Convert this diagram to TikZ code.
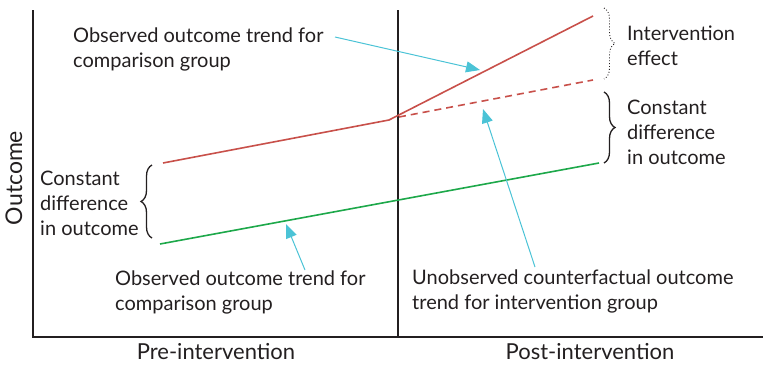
\documentclass[tikz,border=0pt]{standalone}
\usepackage{fontspec}
\setmainfont{Lato}
\usetikzlibrary{arrows.meta,decorations.pathreplacing}
\definecolor{redl}{HTML}{C8504A}
\definecolor{greenl}{HTML}{1DA84A}
\definecolor{cyanl}{HTML}{4BC3D6}
\definecolor{axisc}{HTML}{231F20}
\tikzset{
  lbl/.style={font=\fontsize{20}{25}\selectfont, text=axisc, align=left, inner sep=0pt},
  axislbl/.style={font=\fontsize{22}{25}\selectfont, text=axisc, inner sep=0pt},
  axisline/.style={draw=axisc, line width=2pt},
  pointer/.style={draw=cyanl, line width=1pt, -{Triangle[length=14pt,width=11pt]}},
  bracestyle/.style={draw=axisc, line width=1.3pt, decorate, decoration={brace, amplitude=11pt, aspect=0.5}},
}
\begin{document}
\begin{tikzpicture}[x=1pt,y=-1pt]
\useasboundingbox (0,0) rectangle (763,365);
% axes
\coordinate (tl) at (33,10);
\coordinate (bl) at (33,337);
\coordinate (br) at (763,337);
\coordinate (mt) at (398,10);
\coordinate (mb) at (398,337);
\draw[axisline] (tl) -- (bl) -- (br);
\draw[axisline] (mt) -- (mb);
% trend lines
\coordinate (r0) at (163,163);
\coordinate (rk) at (389,120);
\coordinate (r1) at (593,16);
\coordinate (d0) at (399,117);
\coordinate (d1) at (593,80);
\coordinate (g0) at (160,244);
\coordinate (g1) at (599,163);
\draw[redl, line width=1.6pt, line join=round] (r0) -- (rk) -- (r1);
\draw[redl, line width=1.6pt, dash pattern=on 7pt off 5pt] (d0) -- (d1);
\draw[greenl, line width=1.6pt] (g0) -- (g1);
% braces
\coordinate (b1t) at (604,8);
\coordinate (b1b) at (604,79);
\coordinate (b2t) at (604,92);
\coordinate (b2b) at (604,163);
\coordinate (b3t) at (152,165);
\coordinate (b3b) at (152,238);
\draw[bracestyle, line width=0.9pt, dotted] (b1t) -- (b1b);
\draw[bracestyle] (b2t) -- (b2b);
\draw[bracestyle] (b3b) -- (b3t);
% labels
\node[lbl, anchor=west] (ie) at (627,46) {Intervention\\effect};
\node[lbl, anchor=west] (cdr) at (627,132) {Constant\\difference\\in outcome};
\node[lbl, anchor=west] (cdl) at (40,203) {Constant\\difference\\in outcome};
\node[lbl, anchor=west] (obs1) at (73,49) {Observed outcome trend for\\comparison group};
\node[lbl, anchor=west] (obs2) at (115,292) {Observed outcome trend for\\comparison group};
\node[lbl, anchor=west] (unobs) at (412,291) {Unobserved counterfactual outcome\\trend for intervention group};
\node[axislbl, anchor=base] (pre) at (216,359) {Pre-intervention};
\node[axislbl, anchor=base] (post) at (590,359) {Post-intervention};
\node[axislbl, font=\fontsize{23}{25}\selectfont, rotate=90, anchor=center] (yl) at (14,178) {Outcome};
% pointers
\coordinate (a1s) at (335,37);
\coordinate (a1e) at (480,70);
\coordinate (a2s) at (305,270);
\coordinate (a2e) at (286,224);
\coordinate (a3s) at (535,267);
\coordinate (a3e) at (483,109);
\draw[pointer] (a1s) -- (a1e);
\draw[pointer] (a2s) -- (a2e);
\draw[pointer] (a3s) -- (a3e);
\end{tikzpicture}
\end{document}
